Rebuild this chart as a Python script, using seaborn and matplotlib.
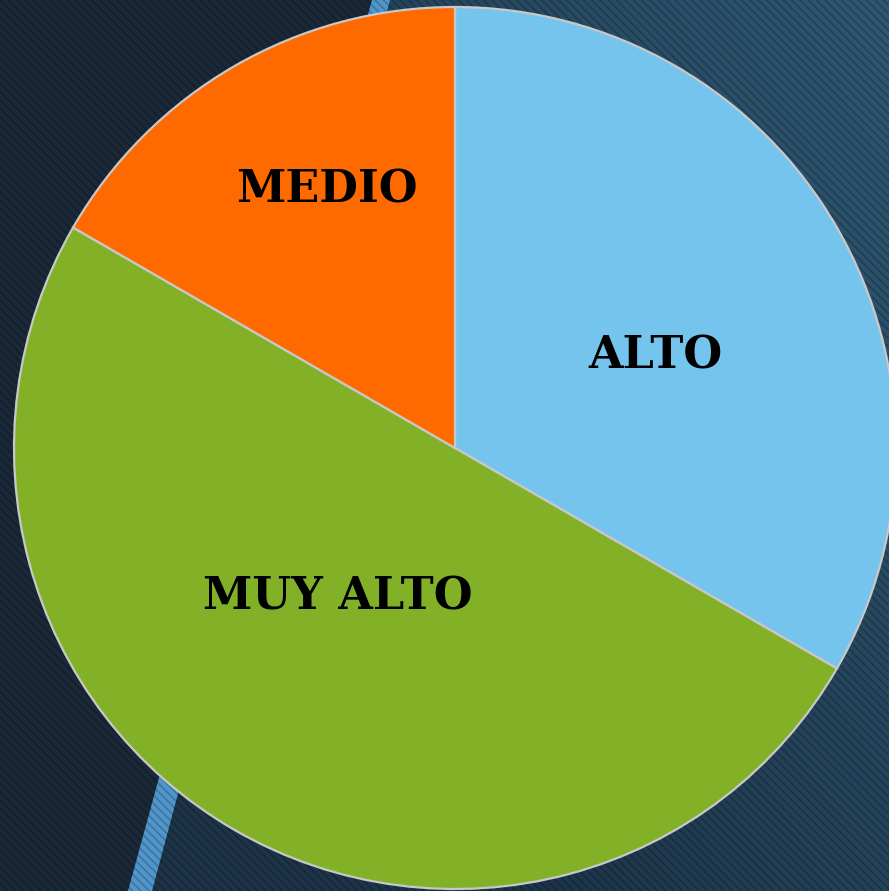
import numpy as np
import matplotlib
matplotlib.use("Agg")
import matplotlib.pyplot as plt
from matplotlib.patches import Polygon
import seaborn as sns

sns.set_theme(style="white")
plt.rcParams['hatch.linewidth'] = 1.2

# data
labels = ["ALTO", "MUY ALTO", "MEDIO"]
values = [2, 3, 1]
colors = ["#75c4ee", "#82b128", "#ff6a00"]

W, H = 889, 891
fig = plt.figure(figsize=(W / 100, H / 100), dpi=100)

# background
bg = fig.add_axes([0, 0, 1, 1])
bg.set_xlim(0, W)
bg.set_ylim(H, 0)
bg.axis("off")

yy, xx = np.mgrid[0:H, 0:W]
grad = np.clip((xx - yy * 0.6) / W, 0, 1)
cmap = matplotlib.colors.LinearSegmentedColormap.from_list("bgc", ["#1d3448", "#2f5873"])
img = bg.imshow(grad, cmap=cmap, extent=[0, W, H, 0], aspect="auto", zorder=0)

left_poly = Polygon([[0, 0], [372, 0], [128, H], [0, H]], closed=True,
                    facecolor="#1a2837", edgecolor="none", zorder=1)
bg.add_patch(left_poly)
stripe = Polygon([[372, 0], [390, 0], [152, H], [128, H]], closed=True,
                 facecolor="#5096cb", edgecolor="none", zorder=1)
bg.add_patch(stripe)
# hatching over everything
hatch = Polygon([[0, 0], [W, 0], [W, H], [0, H]], closed=True, facecolor="none",
                edgecolor=(0, 0, 0, 0.22), hatch="\\\\\\\\", linewidth=0, zorder=2)
bg.add_patch(hatch)

# pie
cx, cy, r = 455, 448, 441
ax = fig.add_axes([(cx - r) / W, (H - cy - r) / H, 2 * r / W, 2 * r / H])
ax.set_facecolor("none")
wedges, _ = ax.pie(values, colors=colors, startangle=90, counterclock=False,
                   wedgeprops=dict(edgecolor="#c8c8c8", linewidth=1.6))
ax.set_xlim(-1, 1)
ax.set_ylim(-1, 1)
ax.set_aspect("equal")

label_pos = {"ALTO": (0.454, 0.209), "MUY ALTO": (-0.265, -0.338), "MEDIO": (-0.290, 0.585)}
for lab in labels:
    x, y = label_pos[lab]
    ax.text(x, y, lab, ha="center", va="center", fontsize=32, fontweight="bold",
            family=["DejaVu Serif"], color="black")

fig.savefig("out.png", dpi=100)
